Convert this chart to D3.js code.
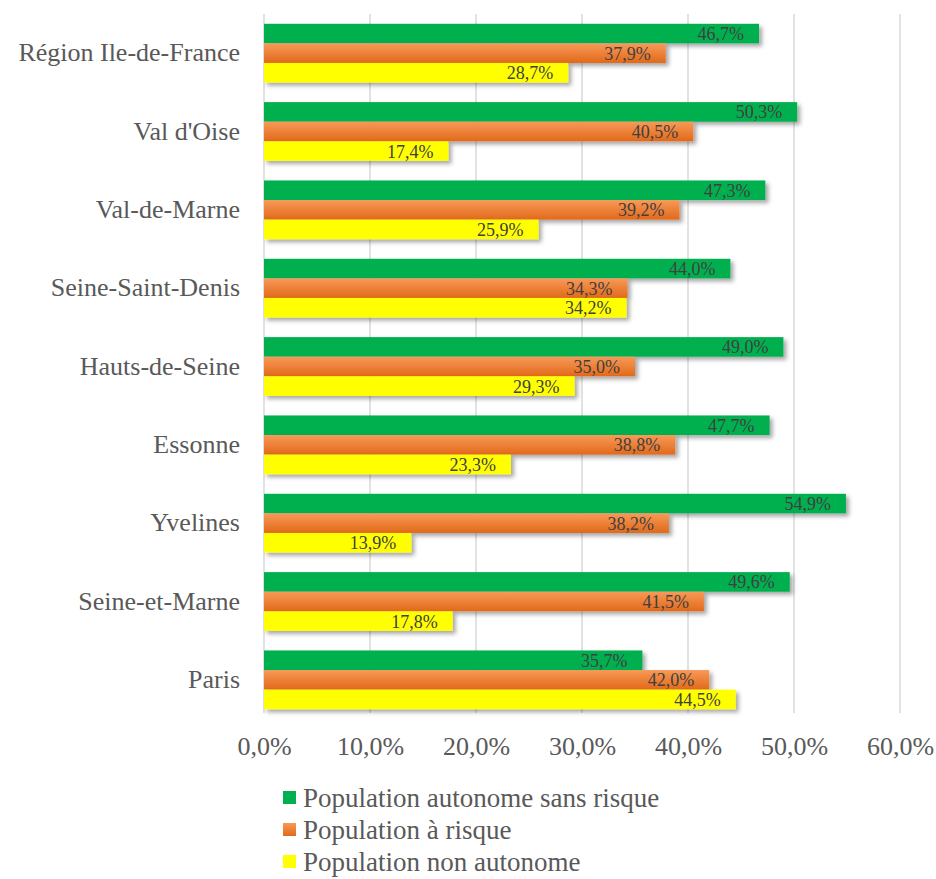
<!DOCTYPE html>
<html><head><meta charset="utf-8">
<script src="https://cdn.jsdelivr.net/npm/d3@7"></script>
<style>body{margin:0;background:#fff}svg{display:block}
text{font-family:"Liberation Serif","Times New Roman","DejaVu Serif",serif;}</style>
</head><body>
<svg id="c" width="936" height="879"></svg>
<script>
const categories = ["Région Ile-de-France","Val d'Oise","Val-de-Marne","Seine-Saint-Denis","Hauts-de-Seine","Essonne","Yvelines","Seine-et-Marne","Paris"];
const seriesNames = ["Population autonome sans risque","Population à risque","Population non autonome"];
const autonome = [46.7,50.3,47.3,44.0,49.0,47.7,54.9,49.6,35.7];
const risque = [37.9,40.5,39.2,34.3,35.0,38.8,38.2,41.5,42.0];
const nonAutonome = [28.7,17.4,25.9,34.2,29.3,23.3,13.9,17.8,44.5];
const ticks = [0,10,20,30,40,50,60];
const colors = ["#00B050","url(#gOrange)","#FFFF00"];
const series = [autonome, risque, nonAutonome];

const svg = d3.select("#c");
const defs = svg.append("defs");
const g1 = defs.append("linearGradient").attr("id","gOrange").attr("x1",0).attr("y1",0).attr("x2",0).attr("y2",1);
g1.append("stop").attr("offset","0%").attr("stop-color","#F79A58");
g1.append("stop").attr("offset","100%").attr("stop-color","#E2691A");
const f = defs.append("filter").attr("id","sh").attr("x","-5%").attr("y","-20%").attr("width","115%").attr("height","160%");
f.append("feDropShadow").attr("dx",3).attr("dy",3).attr("stdDeviation",2).attr("flood-color","#000").attr("flood-opacity",0.35);

const x = d3.scaleLinear().domain([0,60]).range([264,900]);
const y = d3.scaleBand().domain(categories).range([14,719]).paddingInner(0.25).paddingOuter(0.125);
const ys = d3.scaleBand().domain([0,1,2]).range([0,y.bandwidth()]);

const serif = '"Liberation Serif","Times New Roman","DejaVu Serif",serif';

svg.append("g").selectAll("line").data(ticks).join("line")
  .attr("x1",d=>x(d)).attr("x2",d=>x(d)).attr("y1",14).attr("y2",713)
  .attr("stroke","#d9d9d9").attr("stroke-width",1.5);

const fmt = v => d3.format(".1f")(v).replace(".",",")+"%";

const xAxis = d3.axisBottom(x).tickValues(ticks).tickSize(0).tickPadding(0).tickFormat(fmt);
const ga = svg.append("g").attr("transform","translate(0,746)").call(xAxis);
ga.attr("font-family",null).attr("font-size",null);
ga.select(".domain").remove();
ga.selectAll("text").style("font-family",serif).style("font-size","26px").attr("fill","#595959").attr("dy","0.35em").attr("y",0);

const yAxis = d3.axisLeft(y).tickSize(0).tickPadding(0);
const gy = svg.append("g").attr("transform","translate(240,0)").call(yAxis);
gy.attr("font-family",null).attr("font-size",null);
gy.select(".domain").remove();
gy.selectAll("text").style("font-family",serif).style("font-size","26px").attr("fill","#595959");

const rows = [];
categories.forEach((c,i)=>series.forEach((s,j)=>rows.push({c,j,v:s[i]})));
svg.append("g").selectAll("rect").data(rows).join("rect")
  .attr("x",x(0)).attr("y",d=>y(d.c)+ys(d.j)).attr("width",d=>x(d.v)-x(0)).attr("height",ys.bandwidth())
  .attr("fill",d=>colors[d.j]).attr("filter","url(#sh)");

svg.append("g").selectAll("text").data(rows).join("text")
  .attr("x",d=>x(d.v)-15).attr("y",d=>y(d.c)+ys(d.j)+ys.bandwidth()/2)
  .attr("dy","0.36em").attr("text-anchor","end")
  .style("font-family",serif).style("font-size","18px").attr("fill","#404040")
  .text(d=>fmt(d.v));

const lg = svg.append("g").selectAll("g").data(seriesNames).join("g")
  .attr("transform",(d,i)=>`translate(283,${798+i*32})`);
lg.append("rect").attr("x",0).attr("y",-7).attr("width",13).attr("height",13).attr("fill",(d,i)=>colors[i]);
lg.append("text").attr("x",20).attr("y",0).attr("dy","0.35em")
  .style("font-family",serif).style("font-size","27px").attr("fill","#595959").text(d=>d);
</script>
</body></html>
